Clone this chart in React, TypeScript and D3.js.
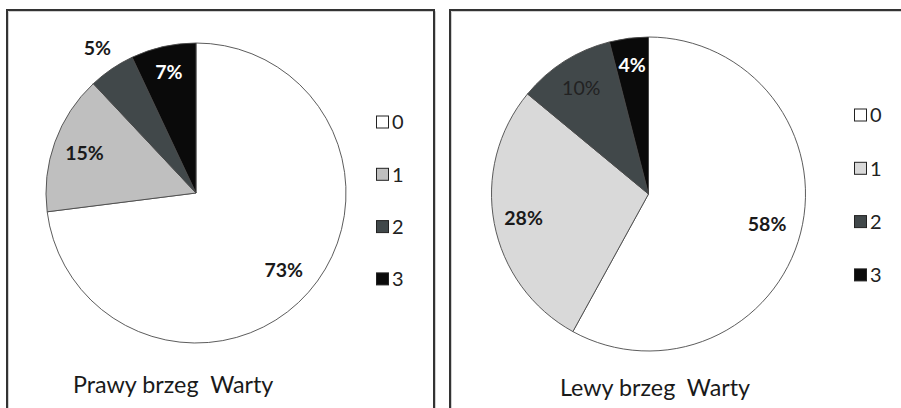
import React from "react";
import * as d3 from "d3";

// Category keys shown in both legends
const categories = ["0", "1", "2", "3"];

// Percentage share of each category, right bank and left bank of the Warta
const prawyValues = [73, 15, 5, 7];
const lewyValues = [58, 28, 10, 4];

const prawyTitle = "Prawy brzeg  Warty";
const lewyTitle = "Lewy brzeg  Warty";

const W = 901;
const H = 408;
const FONT = "Lato, 'Open Sans', sans-serif";

interface PanelCfg {
  values: number[];
  title: string;
  box: [number, number, number]; // left, top, right
  cx: number;
  cy: number;
  r: number;
  fills: string[];
  labelColors: string[];
  labelWeights: number[];
  labelRadius: number[]; // fraction of r
  legendX: number;
  legendY0: number;
  legendStep: number;
  titleX: number;
  titleY: number;
}

const panels: PanelCfg[] = [
  {
    values: prawyValues,
    title: prawyTitle,
    box: [7, 10, 434],
    cx: 196,
    cy: 193,
    r: 150,
    fills: ["#ffffff", "#bfbfbf", "#41484a", "#0a0a0a"],
    labelColors: ["#1a1a1a", "#1a1a1a", "#1a1a1a", "#ffffff"],
    labelWeights: [700, 700, 700, 700],
    labelRadius: [0.78, 0.79, 1.17, 0.83],
    legendX: 376,
    legendY0: 122,
    legendStep: 52.3,
    titleX: 73,
    titleY: 393,
  },
  {
    values: lewyValues,
    title: lewyTitle,
    box: [450, 10, 905],
    cx: 648.5,
    cy: 194,
    r: 157,
    fills: ["#ffffff", "#d9d9d9", "#41484a", "#0a0a0a"],
    labelColors: ["#1a1a1a", "#1a1a1a", "#222222", "#ffffff"],
    labelWeights: [700, 700, 400, 700],
    labelRadius: [0.78, 0.81, 0.8, 0.83],
    legendX: 854,
    legendY0: 115,
    legendStep: 53.3,
    titleX: 560,
    titleY: 396,
  },
];

function Panel({ cfg }: { cfg: PanelCfg }) {
  const pie = d3
    .pie<number>()
    .sort(null)
    .value((d) => d)
    .startAngle(0)
    .endAngle(2 * Math.PI);
  const arcs = pie(cfg.values);
  const arcGen = d3.arc<d3.PieArcDatum<number>>().innerRadius(0).outerRadius(cfg.r);
  const [bx0, by0, bx1] = cfg.box;

  return (
    <g>
      {/* panel frame: left, top, right edges */}
      <path
        d={`M${bx0 + 1.5},${H} L${bx0 + 1.5},${by0 + 1.5} L${bx1 + 1.5},${by0 + 1.5} L${bx1 + 1.5},${H}`}
        fill="none"
        stroke="#d0d0d0"
        strokeWidth={1}
      />
      <path
        d={`M${bx0},${H} L${bx0},${by0} L${bx1},${by0} L${bx1},${H}`}
        fill="none"
        stroke="#333"
        strokeWidth={2}
      />
      <g transform={`translate(${cfg.cx},${cfg.cy})`}>
        {arcs.map((a, i) => (
          <path key={i} d={arcGen(a) || ""} fill={cfg.fills[i]} stroke="#4a4a4a" strokeWidth={0.9} />
        ))}
        {arcs.map((a, i) => {
          const mid = (a.startAngle + a.endAngle) / 2;
          const rr = cfg.r * cfg.labelRadius[i];
          const x = Math.sin(mid) * rr;
          const y = -Math.cos(mid) * rr;
          return (
            <text
              key={i}
              x={x}
              y={y}
              dy="0.36em"
              textAnchor="middle"
              fontFamily={FONT}
              fontSize={19.5}
              fontWeight={cfg.labelWeights[i]}
              fill={cfg.labelColors[i]}
            >
              {`${a.data}%`}
            </text>
          );
        })}
      </g>
      {categories.map((c, i) => {
        const y = cfg.legendY0 + i * cfg.legendStep;
        return (
          <g key={c}>
            <rect
              x={cfg.legendX + 0.5}
              y={y - 6}
              width={12}
              height={12}
              fill={cfg.fills[i]}
              stroke="#222"
              strokeWidth={1}
            />
            <text
              x={cfg.legendX + 16}
              y={y}
              dy="0.36em"
              fontFamily={FONT}
              fontSize={20}
              fill="#222"
            >
              {c}
            </text>
          </g>
        );
      })}
      <text x={cfg.titleX} y={cfg.titleY} fontFamily={FONT} fontSize={23.3} fill="#1a1a1a" style={{ whiteSpace: "pre" }}>
        {cfg.title}
      </text>
    </g>
  );
}

export default function App() {
  return (
    <svg
      width={W}
      height={H}
      viewBox={`0 0 ${W} ${H}`}
      style={{ position: "absolute", left: 0, top: 0, background: "#fff" }}
    >
      <rect width={W} height={H} fill="#fff" />
      {panels.map((p, i) => (
        <Panel key={i} cfg={p} />
      ))}
    </svg>
  );
}
